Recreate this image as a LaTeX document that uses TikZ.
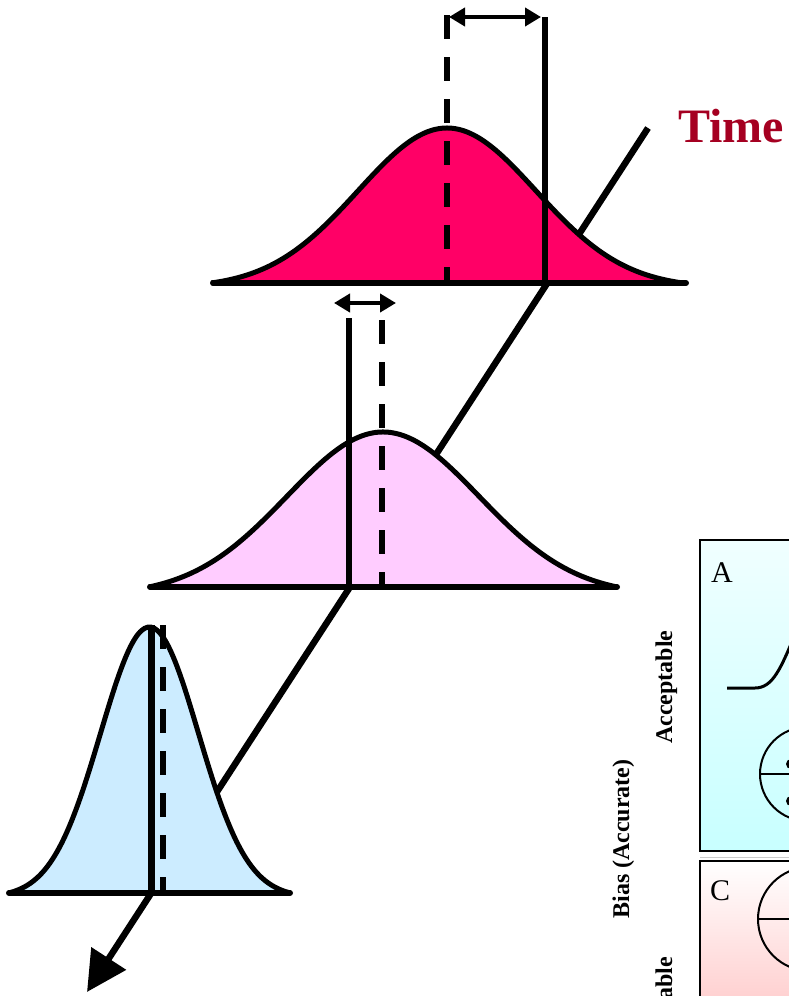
\documentclass[tikz,border=0pt]{standalone}
\usepackage{fontspec}
\setmainfont{Liberation Serif}
\usetikzlibrary{arrows.meta}
\definecolor{pinkfill}{RGB}{255,0,102}
\definecolor{lilacfill}{RGB}{255,204,255}
\definecolor{bluefill}{RGB}{204,236,255}
\definecolor{timered}{RGB}{165,0,33}
\definecolor{cyanlow}{RGB}{200,255,255}
\definecolor{cyantop}{RGB}{240,255,255}
\definecolor{rosebottom}{RGB}{255,205,205}
\begin{document}
\begin{tikzpicture}[x=1pt,y=-1pt,
  outline/.style={line width=5pt, line join=round},
  baseln/.style={line width=6pt, line cap=round},
  solidmark/.style={line width=6.5pt},
  dashmark/.style={line width=6pt, dash pattern=on 24pt off 18pt},
  dblarrow/.style={line width=4pt, {Triangle[length=16pt,width=18pt]}-{Triangle[length=16pt,width=18pt]}},
  rotlabel/.style={rotate=90, inner sep=0pt, font=\bfseries\fontsize{24}{26}\selectfont},
  boxlabel/.style={anchor=base west, inner sep=0pt, font=\fontsize{30}{32}\selectfont},
  thin panel/.style={line width=1.5pt}
]
\useasboundingbox (0,0) rectangle (789,996);
\clip (0,0) rectangle (789,996);

% ---------- right-hand panels ----------
\shade[top color=cyantop, bottom color=cyanlow] (700,540) rectangle (820,851);
\draw[thin panel] (820,540) -- (700,540) -- (700,851) -- (820,851);
\draw[gray!40, line width=1pt] (700,857) -- (789,857);
\shade[top color=white, bottom color=rosebottom] (700,861) rectangle (820,1010);
\draw[thin panel] (820,861) -- (700,861) -- (700,1010);

\node[boxlabel] (labA) at (711,582) {A};
\node[boxlabel] (labC) at (710,900) {C};

% small bell in A
\draw[line width=3pt] (727,688) -- (755,688) .. controls (773,688) and (781,668) .. (796,632);
% target circle in A
\draw[line width=2pt] (807,774) circle (47);
\draw[line width=2pt] (760,774) -- (854,774);
\fill (791,764) circle (5);
\fill (791,801) circle (5);
% target circle in C
\draw[line width=2pt] (810,919) circle (52);
\draw[line width=2pt] (758,919) -- (862,919);

\node[rotlabel, anchor=base] (acc) at (672,687) {Acceptable};
\node[rotlabel, anchor=base] (bias) at (629,839) {Bias (Accurate)};
\node[rotlabel, anchor=base east] (unacc) at (672,957) {Unacceptable};

% ---------- time axis ----------
\coordinate (tstart) at (648,128);
\coordinate (tend) at (87,992);
\draw[line width=6.5pt, -{Triangle[length=40pt,width=40pt]}] (tstart) -- (tend);

\node[anchor=base west, inner sep=0pt, text=timered, font=\bfseries\fontsize{48}{50}\selectfont] (time) at (678,142) {Time};

% ---------- pink (top) distribution ----------
\fill[pinkfill] plot[domain=-2.65:2.65, samples=90, smooth] ({447+89*\x},{283-155*(exp(-\x*\x/2)-0.0299)/(1-0.0299)}) -- cycle;
\draw[outline] plot[domain=-2.65:2.65, samples=90, smooth] ({447+89*\x},{283-155*(exp(-\x*\x/2)-0.0299)/(1-0.0299)});
\draw[baseln] (213,283) -- (686,283);
\coordinate (pdtop) at (447,15);
\coordinate (pdbot) at (447,283);
\coordinate (pstop) at (545,17);
\coordinate (psbot) at (545,286);
\draw[dashmark] (pdtop) -- (pdbot);
\draw[solidmark] (pstop) -- (psbot);
\coordinate (pal) at (449,17);
\coordinate (par) at (541,17);
\draw[dblarrow] (pal) -- (par);

% ---------- lilac (middle) distribution ----------
\fill[lilacfill] plot[domain=-2.44:2.44, samples=90, smooth] ({383+96*\x},{587-155*(exp(-\x*\x/2)-0.0510)/(1-0.0510)}) -- cycle;
\draw[outline] plot[domain=-2.44:2.44, samples=90, smooth] ({383+96*\x},{587-155*(exp(-\x*\x/2)-0.0510)/(1-0.0510)});
\draw[baseln] (150,587) -- (617,587);
\coordinate (ldtop) at (382,320);
\coordinate (ldbot) at (382,588);
\coordinate (lstop) at (349,318);
\coordinate (lsbot) at (349,590);
\draw[dashmark] (ldtop) -- (ldbot);
\draw[solidmark] (lstop) -- (lsbot);
\coordinate (lal) at (334,303);
\coordinate (lar) at (396,303);
\draw[dblarrow] (lal) -- (lar);

% ---------- blue (bottom) distribution ----------
\fill[bluefill] plot[domain=-2.88:2.88, samples=90, smooth] ({149.5+49*\x},{893-266*(exp(-\x*\x/2)-0.0159)/(1-0.0159)}) -- cycle;
\draw[outline] plot[domain=-2.88:2.88, samples=90, smooth] ({149.5+49*\x},{893-266*(exp(-\x*\x/2)-0.0159)/(1-0.0159)});
\draw[baseln] (9,893) -- (290,893);
\coordinate (bdtop) at (163,625);
\coordinate (bdbot) at (163,893);
\coordinate (bstop) at (151.5,625);
\coordinate (bsbot) at (151.5,895);
\draw[dashmark] (bdtop) -- (bdbot);
\draw[solidmark] (bstop) -- (bsbot);
\end{tikzpicture}
\end{document}
